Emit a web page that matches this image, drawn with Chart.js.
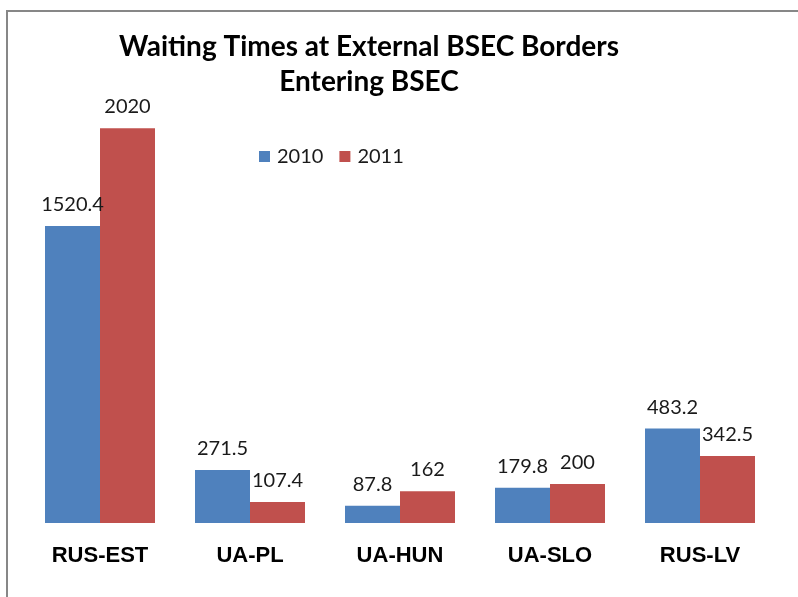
<!DOCTYPE html>
<html>
<head>
<meta charset="utf-8">
<script src="https://cdn.jsdelivr.net/npm/chart.js@4/dist/chart.umd.min.js"></script>
<style>
  html, body { margin: 0; padding: 0; background: #fff; overflow: hidden; }
  #wrap { position: relative; width: 798px; height: 597px; }
  #frame { position: absolute; left: 6px; top: 10px; width: 900px; height: 700px;
           border-left: 2px solid #878787; border-top: 2px solid #878787; }
  canvas { position: absolute; left: 0; top: 0; }
</style>
</head>
<body>
<div id="wrap">
  <div id="frame"></div>
  <canvas id="c" width="798" height="597"></canvas>
</div>
<script>
const categories = ["RUS-EST", "UA-PL", "UA-HUN", "UA-SLO", "RUS-LV"];
const series2010 = [1520.4, 271.5, 87.8, 179.8, 483.2];
const series2011 = [2020, 107.4, 162, 200, 342.5];
const seriesNames = ["2010", "2011"];
const titleLines = ["Waiting Times at External BSEC Borders", "Entering BSEC"];

const BLUE = "#4F81BD";
const RED = "#C0504D";

const overlayPlugin = {
  id: "overlay",
  afterDatasetsDraw(chart) {
    const ctx = chart.ctx;
    ctx.save();
    // data labels
    ctx.font = "20px Lato";
    ctx.fillStyle = "#1a1a1a";
    ctx.textAlign = "center";
    ctx.textBaseline = "alphabetic";
    chart.data.datasets.forEach((ds, di) => {
      const meta = chart.getDatasetMeta(di);
      meta.data.forEach((el, i) => {
        ctx.fillText(String(ds.data[i]), el.x, el.y - 15);
      });
    });
    // title
    ctx.font = "bold 28px Lato";
    ctx.fillStyle = "#000";
    ctx.fillText(titleLines[0], 369, 56);
    ctx.fillText(titleLines[1], 369, 91);
    // legend
    ctx.font = "20px Lato";
    ctx.textAlign = "left";
    let x = 259;
    chart.data.datasets.forEach((ds) => {
      ctx.fillStyle = ds.backgroundColor;
      ctx.fillRect(x, 151, 11, 11);
      ctx.fillStyle = "#1a1a1a";
      ctx.fillText(ds.label, x + 18, 163);
      x += 18 + ctx.measureText(ds.label).width + 16;
    });
    ctx.restore();
  }
};

new Chart(document.getElementById("c"), {
  type: "bar",
  data: {
    labels: categories,
    datasets: [
      { label: seriesNames[0], data: series2010, backgroundColor: BLUE, borderWidth: 0 },
      { label: seriesNames[1], data: series2011, backgroundColor: RED, borderWidth: 0 }
    ]
  },
  options: {
    responsive: false,
    animation: false,
    events: [],
    layout: { padding: { left: 25, right: 23, top: 54, bottom: 7.6 } },
    datasets: { bar: { categoryPercentage: 0.7333, barPercentage: 1.0 } },
    plugins: {
      legend: { display: false },
      title: { display: false },
      tooltip: { enabled: false }
    },
    scales: {
      x: {
        grid: { display: false, drawTicks: false },
        border: { display: false },
        ticks: {
          padding: 20,
          color: "#000",
          font: { family: "Liberation Sans", size: 22, weight: "bold", lineHeight: 1.2 },
          maxRotation: 0
        }
      },
      y: {
        display: false,
        min: 0,
        max: 2400
      }
    }
  },
  plugins: [overlayPlugin]
});
</script>
</body>
</html>
